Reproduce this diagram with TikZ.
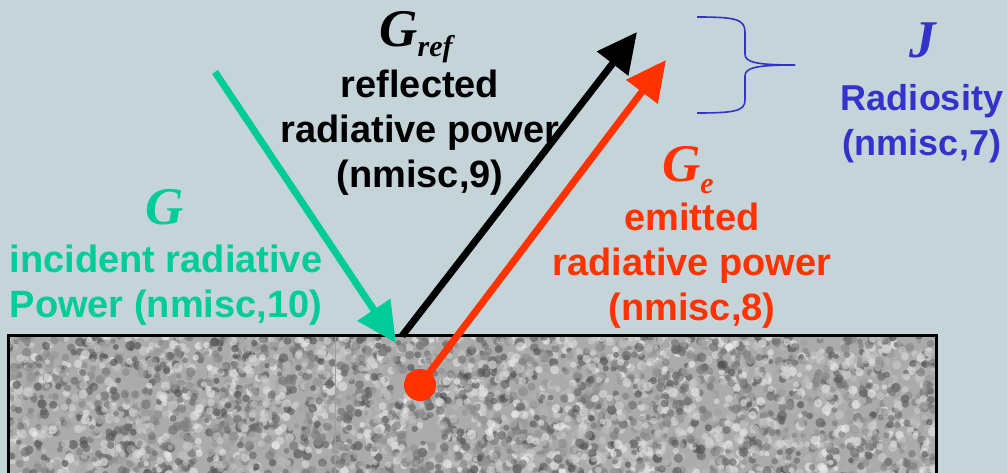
\documentclass[tikz,border=0pt]{standalone}
\usepackage{fontspec}
\setmainfont{Liberation Sans}
\newfontfamily\tmsfont{Liberation Serif}
\usetikzlibrary{arrows.meta}
\definecolor{bg}{RGB}{196,212,217}
\definecolor{grn}{RGB}{0,204,153}
\definecolor{rd}{RGB}{255,51,0}
\definecolor{bl}{RGB}{51,51,204}
\begin{document}
\begin{tikzpicture}[x=1pt,y=-1pt,
  ray/.style={line width=7pt,-{Triangle[length=40pt,width=38pt]}},
  lbl/.style={font=\fontsize{38}{45}\selectfont\bfseries,align=center,inner sep=0pt},
  sym/.style={font=\fontsize{53}{53}\selectfont\tmsfont\bfseries\itshape,inner sep=0pt,anchor=base},
  brace/.style={draw=bl,line width=1.6pt},
]
\fill[bg] (0,0) rectangle (1007,473);
\useasboundingbox (0,0) rectangle (1007,473);
% surface
\begin{scope}
  \clip (8,335) rectangle (936,480);
  \fill[black!33] (8,335) rectangle (936,480);
  \pgfmathsetseed{7}
  \foreach \i in {1,...,4200}{
    \pgfmathsetmacro\xx{8+928*rnd}
    \pgfmathsetmacro\yy{335+145*rnd}
    \pgfmathsetmacro\gg{4+68*rnd}
    \pgfmathsetmacro\rr{2.5+2.5*rnd}
    \fill[black!\gg!white,fill opacity=0.6] (\xx,\yy) circle (\rr pt);
  }
  \draw[black!38,line width=0.6pt] (335,335) -- (335,480);
\end{scope}
\draw[line width=3pt] (8,480) -- (8,335) -- (936,335) -- (936,480);
% arrows
\coordinate (gS) at (215,72);
\coordinate (gT) at (396,343);
\coordinate (bS) at (402,336);
\coordinate (bT) at (637,32);
\coordinate (rT) at (666,60);
\node[circle,fill=rd,minimum size=32pt,inner sep=0pt] (dot) at (420,385) {};
\draw[ray,grn] (gS) -- (gT);
\draw[ray,black] (bS) -- (bT);
\draw[ray,rd] (dot.center) -- (rT);
% brace
\coordinate (brTip) at (795,65);
\draw[brace] (697,17) .. controls (735,17) and (745,19) .. (745,32) -- (745,54)
  .. controls (745,62) and (755,65) .. (brTip);
\draw[brace] (brTip) .. controls (755,65) and (745,68) .. (745,76) -- (745,100)
  .. controls (745,111) and (735,113) .. (697,113);
% labels
\node[sym,text=black] (Gref) at (416,47) {G\raisebox{-10pt}{\fontsize{30}{30}\selectfont ref}};
\node[lbl,text=black] (refl) at (420,133) {reflected\\radiative power\\(nmisc,9)};
\node[sym,text=grn] (G) at (165,225) {G};
\node[lbl,text=grn] (inc) at (166,285) {incident radiative\\Power (nmisc,10)};
\node[sym,text=rd] (Ge) at (688,182) {G\raisebox{-12pt}{\fontsize{30}{30}\selectfont e}};
\node[lbl,text=rd] (emi) at (692,266) {emitted\\radiative power\\(nmisc,8)};
\node[sym,text=bl] (J) at (923,58) {J};
\node[lbl,text=bl,font=\fontsize{36}{45}\selectfont\bfseries] (rad) at (922,124) {Radiosity\\(nmisc,7)};
\end{tikzpicture}
\end{document}
